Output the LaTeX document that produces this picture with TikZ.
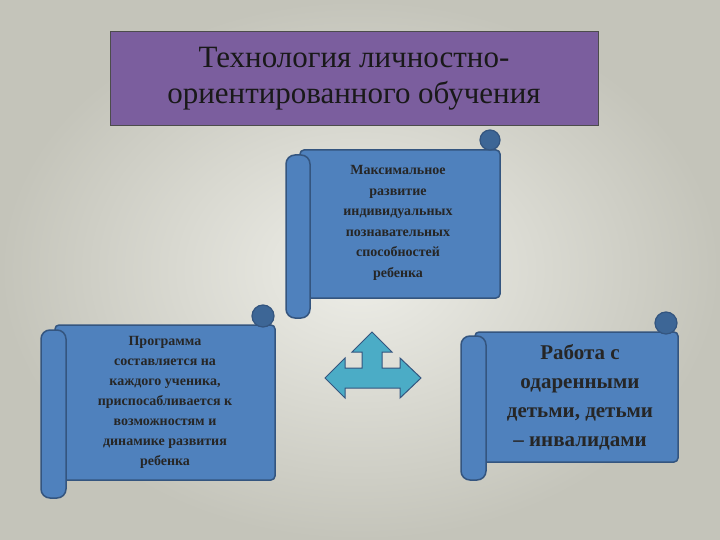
\documentclass[tikz,border=0pt]{standalone}
\usepackage{fontspec}
\setmainfont{Liberation Serif}
\tikzset{
  body/.style={fill=scrollblue, draw=scrolledge, line width=1.5pt, rounded corners=4pt},
  roll/.style={fill=scrollblue, draw=scrolledge, line width=1.5pt, rounded corners=9pt},
  curl/.style={fill=curlblue, draw=scrolledge, line width=1.2pt},
  txt/.style={align=center, text=black!85}
}
\definecolor{scrollblue}{HTML}{4F81BD}
\definecolor{scrolledge}{HTML}{34557F}
\definecolor{curlblue}{HTML}{3D6696}
\definecolor{titlefill}{HTML}{7B5E9E}
\definecolor{arrowblue}{HTML}{4BACC6}
\begin{document}
\begin{tikzpicture}[x=1pt,y=-1pt]
\useasboundingbox (0,0) rectangle (720,540);
\shade[inner color={rgb,255:red,238;green,238;blue,232}, outer color={rgb,255:red,196;green,196;blue,186}] (0,0) rectangle (720,540);
% title
\node[fill=titlefill, draw=black!70, line width=1pt, minimum width=488pt, minimum height=94pt, align=center, font=\fontsize{31}{36}\selectfont, text=black!90] (title) at (354,79) {Технология личностно-\\ориентированного обучения};
% top scroll
\draw[body] (300,150) rectangle (500,298);
\draw[roll] (286,155) rectangle (310,318);
\filldraw[curl] (490,140) circle (10pt);
\node[txt, font=\bfseries\fontsize{14}{20.5}\selectfont] (t1) at (398,223) {Максимальное\\развитие\\индивидуальных\\познавательных\\способностей\\ребенка};
% left scroll
\draw[body] (55,325) rectangle (275,480);
\draw[roll] (41,330) rectangle (66,498);
\filldraw[curl] (263,316) circle (11pt);
\node[txt, font=\bfseries\fontsize{14}{20}\selectfont] (t2) at (165,402) {Программа\\составляется на\\каждого ученика,\\приспосабливается к\\возможностям и\\динамике развития\\ребенка};
% right scroll
\draw[body] (475,332) rectangle (678,462);
\draw[roll] (461,336) rectangle (486,480);
\filldraw[curl] (666,323) circle (11pt);
\node[txt, font=\bfseries\fontsize{21}{29}\selectfont] (t3) at (580,397) {Работа с\\одаренными\\детьми, детьми\\– инвалидами};
% arrow
\coordinate (ac) at (372,378);
\filldraw[fill=arrowblue, draw=scrolledge, line width=1pt]
 (325,378) -- (345,358) -- (345,368) -- (362,368) -- (362,352) -- (352,352) -- (372,332) -- (392,352) -- (382,352) -- (382,368) -- (400,368) -- (400,358) -- (421,378) -- (400,398) -- (400,388) -- (345,388) -- (345,398) -- cycle;
\end{tikzpicture}
\end{document}
